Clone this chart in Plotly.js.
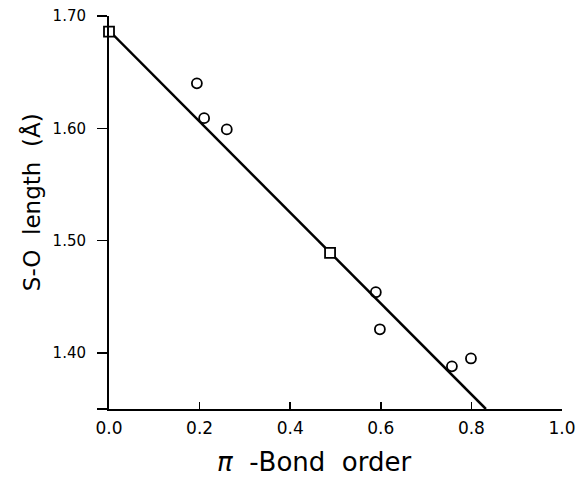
<!DOCTYPE html>
<html>
<head>
<meta charset="utf-8">
<script src="https://cdn.plot.ly/plotly-3.0.1.min.js"></script>
<style>html,body{margin:0;padding:0;background:#fff;}#chart{width:577px;height:482px;}</style>
</head>
<body>
<div id="chart"></div>
<script>
// Data
var squareX = [0.0, 0.488];
var squareY = [1.686, 1.489];
var circleX = [0.194, 0.210, 0.260, 0.589, 0.598, 0.757, 0.799];
var circleY = [1.640, 1.609, 1.599, 1.454, 1.421, 1.388, 1.395];
var fitX = [0.0, 0.832];
var fitY = [1.687, 1.350];
var xTickVals = [0.0, 0.2, 0.4, 0.6, 0.8, 1.0];
var xTickText = ["0.0", "0.2", "0.4", "0.6", "0.8", "1.0"];
var yTickVals = [1.35, 1.40, 1.50, 1.60, 1.70];
var yTickText = ["", "1.40", "1.50", "1.60", "1.70"];

var traces = [
  {x: fitX, y: fitY, mode: 'lines', type: 'scatter', line: {color: '#000', width: 2.5}, cliponaxis: false, hoverinfo: 'skip'},
  {x: circleX, y: circleY, mode: 'markers', type: 'scatter', cliponaxis: false,
   marker: {symbol: 'circle-open', size: 10, color: '#000', line: {color: '#000', width: 1.8}}},
  {x: squareX, y: squareY, mode: 'markers', type: 'scatter', cliponaxis: false,
   marker: {symbol: 'square', size: 10, color: '#fff', line: {color: '#000', width: 1.8}}}
];

var layout = {
  width: 577, height: 482,
  margin: {l: 109, r: 15, t: 16, b: 73},
  paper_bgcolor: '#fff', plot_bgcolor: '#fff',
  showlegend: false,
  font: {family: 'DejaVu Sans, sans-serif', color: '#000'},
  xaxis: {
    range: [0, 1.0], tickvals: xTickVals, ticktext: xTickText,
    ticks: 'inside', ticklen: 7, tickwidth: 1.5, tickcolor: '#000',
    showline: true, linecolor: '#000', linewidth: 2, showgrid: false, zeroline: false,
    ticklabelstandoff: 3, ticklabeloverflow: 'allow',
    tickfont: {size: 17, family: 'DejaVu Sans, sans-serif'}
  },
  yaxis: {
    range: [1.35, 1.70], tickvals: yTickVals, ticktext: yTickText,
    ticks: 'outside', ticklen: 10, tickwidth: 1.5, tickcolor: '#000',
    showline: true, linecolor: '#000', linewidth: 2, showgrid: false, zeroline: false,
    ticklabelstandoff: 8, ticklabeloverflow: 'allow',
    tickfont: {size: 15, family: 'DejaVu Sans, sans-serif'}
  },
  annotations: [
    {text: '<i>π</i>  -Bond  order', xref: 'paper', yref: 'paper', x: 0.453, y: -0.135,
     xanchor: 'center', yanchor: 'middle', showarrow: false,
     font: {size: 26, family: 'DejaVu Sans, sans-serif'}},
    {text: 'S-O  length  (Å)', xref: 'paper', yref: 'paper', x: -0.171, y: 0.525,
     xanchor: 'center', yanchor: 'middle', textangle: -90, showarrow: false,
     font: {size: 23, family: 'DejaVu Sans, sans-serif'}}
  ]
};

Plotly.newPlot('chart', traces, layout, {displayModeBar: false, staticPlot: true});
</script>
</body>
</html>
